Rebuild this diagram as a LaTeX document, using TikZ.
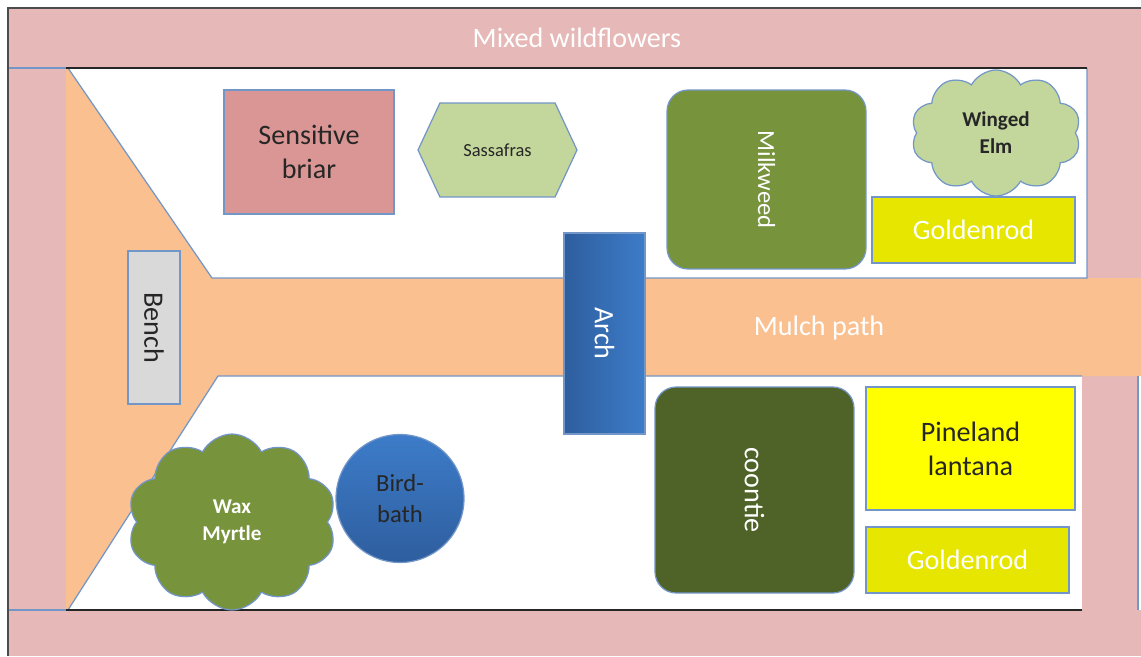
\documentclass[tikz,border=0pt]{standalone}
\usepackage{fontspec}
\setmainfont{Carlito}
\usetikzlibrary{shapes.geometric, shapes.symbols}
\definecolor{PinkA}{HTML}{E6B9B8}
\definecolor{MulchA}{HTML}{FAC090}
\definecolor{EdgeA}{HTML}{7396C8}
\definecolor{BriarA}{HTML}{D99694}
\definecolor{GreenL}{HTML}{C3D69B}
\definecolor{GreenM}{HTML}{77933C}
\definecolor{GreenD}{HTML}{4F6228}
\definecolor{GoldA}{HTML}{E6E600}
\definecolor{LemonA}{HTML}{FFFF00}
\definecolor{BenchA}{HTML}{D9D9D9}
\definecolor{BlueA}{HTML}{2E5E9E}
\definecolor{BlueB}{HTML}{3D7CC9}
\tikzset{
  bed/.style={draw=EdgeA, line width=0.7pt, align=center, inner sep=1pt},
  big/.style={font=\fontsize{16}{19.5}\selectfont},
  mid/.style={font=\fontsize{14}{18}\selectfont},
  small/.style={font=\bfseries\fontsize{12}{15.3}\selectfont},
  tiny/.style={font=\fontsize{10.5}{13}\selectfont},
  lite/.style={text=white},
  dark/.style={text=black!85},
  puff/.style={cloud, cloud puffs=10, cloud puff arc=125, cloud ignores aspect}
}

\begin{document}
\begin{tikzpicture}[x=0.02cm, y=-0.02cm]
  \useasboundingbox[fill=white] (0,0) rectangle (1141,656);

  % borders of wildflowers
  \fill[PinkA] (8,8) rectangle (1141,68);
  \fill[PinkA] (8,68) rectangle (66,610);
  \fill[PinkA] (1087,68) rectangle (1141,280);
  \fill[PinkA] (1082,376) rectangle (1137,610);
  \fill[PinkA] (8,610) rectangle (1141,656);

  % mulch path
  \fill[MulchA] (66,68) -- (68,68) -- (212,278) -- (1141,278) -- (1141,376)
    -- (218,376) -- (68,610) -- (66,610) -- cycle;
  \draw[EdgeA, line width=0.7pt] (68,68) -- (212,278) -- (1087,278) -- (1087,68);
  \draw[EdgeA, line width=0.7pt] (1082,376) -- (218,376) -- (68,610);
  \draw[EdgeA, line width=0.6pt] (8,68) -- (66,68);
  \draw[EdgeA, line width=0.6pt] (8,610) -- (66,610);
  \draw[EdgeA, line width=0.6pt] (1138,376) -- (1138,610);
  \draw[black!85, line width=0.8pt] (66,68) -- (1087,68);
  \draw[black!85, line width=0.8pt] (66,610) -- (1082,610);
  \draw[black!70, line width=0.8pt] (8,656) -- (8,8) -- (1141,8);

  \node[big,lite] (wild) at (577,38) {Mixed wildflowers};
  \node[big,lite] (path) at (819,328) {Mulch path};

  % upper beds
  \node[bed,big,dark,fill=BriarA,minimum width=3.4cm,minimum height=2.48cm] (briar) at (309,152) {Sensitive\\briar};
  \node[bed,tiny,dark,fill=GreenL,signal,signal to=east and west,signal pointer angle=130,
    minimum width=3.18cm,minimum height=1.88cm] (sassafras) at (497.5,150) {Sassafras};
  \node[bed,mid,lite,fill=GreenM,rounded corners=12pt,minimum width=3.98cm,minimum height=3.58cm] (milkweed) at (766.5,179.5) {\rotatebox{-90}{Milkweed}};
  \node[bed,small,dark,fill=GreenL,puff,minimum width=3.4cm,minimum height=2.52cm] (elm) at (996,133) {Winged\\Elm};
  \node[bed,big,lite,fill=GoldA,minimum width=4.06cm,minimum height=1.32cm] (gold1) at (973.5,230) {Goldenrod};

  % arch and bench
  \node[bed,big,lite,left color=BlueA,right color=BlueB,minimum width=1.62cm,minimum height=4.02cm] (arch) at (604.5,333.5) {\rotatebox{-90}{Arch}};
  \node[bed,big,dark,fill=BenchA,minimum width=1.04cm,minimum height=3.06cm] (bench) at (154,327.5) {\rotatebox{-90}{Bench}};

  % lower beds
  \node[bed,small,lite,fill=GreenM,puff,minimum width=4.18cm,minimum height=3.52cm] (myrtle) at (232,522) {Wax\\Myrtle};
  \node[bed,mid,dark,circle,top color=BlueB,bottom color=BlueA,minimum size=2.56cm] (bath) at (400,498.5) {Bird-\\bath};
  \node[bed,big,lite,fill=GreenD,rounded corners=12pt,minimum width=3.98cm,minimum height=4.12cm] (coontie) at (754.5,490) {\rotatebox{-90}{coontie}};
  \node[bed,big,dark,fill=LemonA,minimum width=4.18cm,minimum height=2.46cm] (lantana) at (970.5,448.5) {Pineland\\lantana};
  \node[bed,big,lite,fill=GoldA,minimum width=4.06cm,minimum height=1.32cm] (gold2) at (967.5,560) {Goldenrod};
\end{tikzpicture}
\end{document}
